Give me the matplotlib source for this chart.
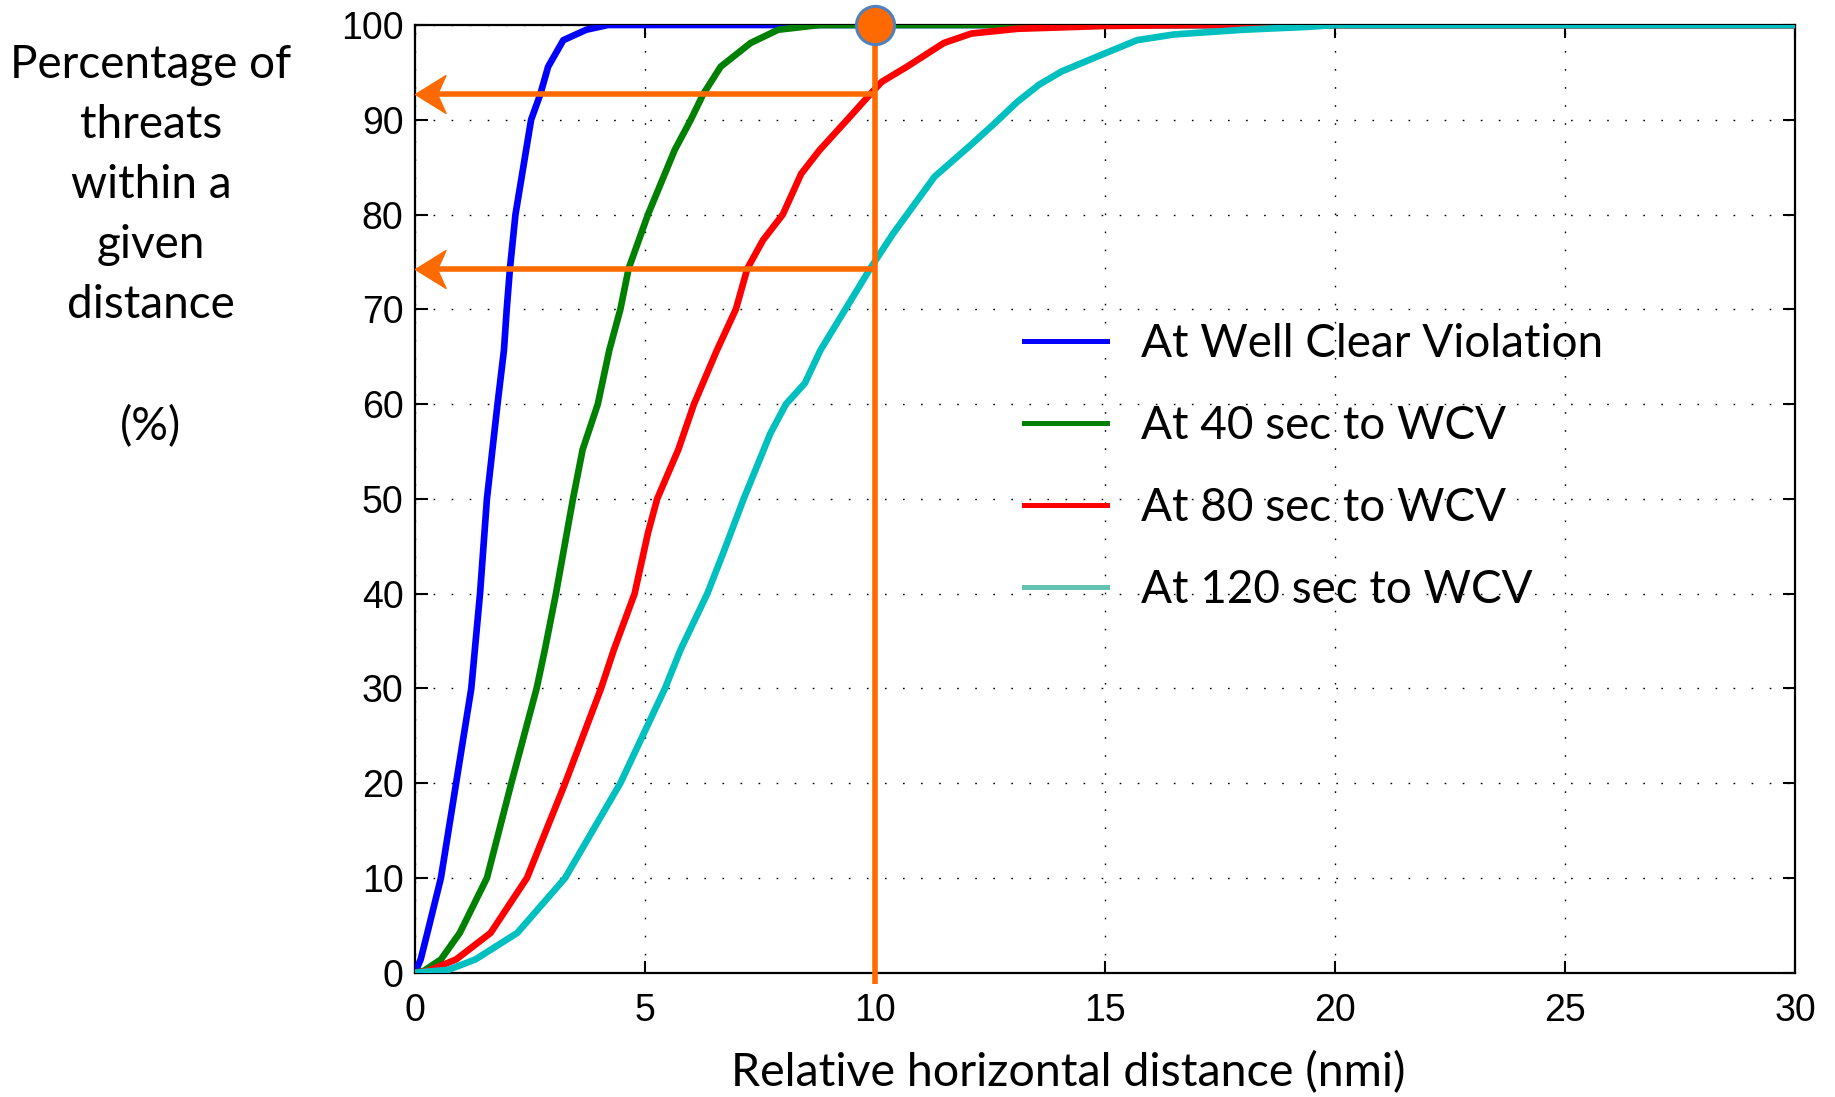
import matplotlib
matplotlib.use("Agg")
import matplotlib.pyplot as plt
from matplotlib.lines import Line2D
from matplotlib.path import Path

# ---------------- data ----------------
x_wcv = [0, 0.05, 0.13, 0.275, 0.57, 0.9, 1.23, 1.42, 1.57, 1.8, 1.94, 2.0, 2.07, 2.19, 2.53, 2.73, 2.9, 3.23, 3.73, 4.2, 30]
y_wcv = [0, 0.5, 1.4, 4.2, 10, 20, 30, 40, 50, 60, 65.7, 70, 74.3, 80, 90, 92.7, 95.6, 98.4, 99.5, 100, 100]

x_40 = [0, 0.2, 0.57, 0.98, 1.57, 2.1, 2.65, 2.83, 3.07, 3.44, 3.65, 3.98, 4.23, 4.47, 4.65, 5.07, 5.65, 6.0, 6.27, 6.65, 7.3, 7.9, 8.8, 30]
y_40 = [0, 0.2, 1.4, 4.2, 10, 20, 30, 34.1, 40, 50, 55.2, 60, 65.7, 70, 74.3, 80, 86.8, 90, 92.7, 95.6, 98.1, 99.5, 100, 100]

x_80 = [0, 0.3, 0.9, 1.65, 2.44, 3.27, 4.05, 4.33, 4.78, 5.07, 5.27, 5.73, 6.07, 6.57, 6.98, 7.23, 7.57, 8.0, 8.4, 8.8, 9.4, 9.9, 10.15, 10.7, 11.5, 12.1, 13.1, 15, 17, 30]
y_80 = [0, 0.2, 1.4, 4.2, 10, 20, 30, 34.1, 40, 46.4, 50, 55.2, 60, 65.7, 70, 74.3, 77.3, 80, 84.3, 86.8, 90, 92.7, 94.0, 95.6, 98.1, 99.1, 99.6, 99.9, 100, 100]

x_120 = [0, 0.73, 1.32, 2.23, 3.27, 4.47, 5.44, 5.78, 6.36, 6.73, 7.15, 7.73, 8.07, 8.48, 8.82, 9.36, 9.9, 10.4, 11.3, 12.1, 12.6, 13.1, 13.57, 14.06, 15, 15.7, 16.5, 18, 19.4, 20, 30]
y_120 = [0, 0.3, 1.4, 4.2, 10, 20, 30, 34.1, 40, 44.6, 50, 56.9, 60, 62.2, 65.7, 70, 74.3, 78, 84, 87.4, 89.6, 91.9, 93.7, 95.1, 97, 98.4, 99, 99.5, 99.8, 100, 100]

series_labels = ["At Well Clear Violation", "At 40 sec to WCV", "At 80 sec to WCV", "At 120 sec to WCV"]
series_colors = ["#0000FF", "#008000", "#FF0000", "#00BFBF"]
legend_colors = ["#0000FF", "#008000", "#FF0000", "#62C4B0"]

x_ticks = [0, 5, 10, 15, 20, 25, 30]
y_ticks = [0, 10, 20, 30, 40, 50, 60, 70, 80, 90, 100]

marker_x = 10
marker_y = 100
arrow_levels = [92.7, 74.3]

ylabel_text = "Percentage of\nthreats\nwithin a\ngiven\ndistance\n\n(%)"
xlabel_text = "Relative horizontal distance (nmi)"

# ---------------- figure ----------------
TEXT_FONT = ["Lato", "DejaVu Sans"]
TICK_FONT = ["Liberation Sans", "DejaVu Sans"]
plt.rcParams["font.family"] = TICK_FONT

W, H = 1835, 1097
L, R, T, B = 414.7, 1795.0, 25.0, 972.7
fig = plt.figure(figsize=(W / 100, H / 100), dpi=100)
ax = fig.add_axes([L / W, 1 - B / H, (R - L) / W, (B - T) / H])

curves = [(x_wcv, y_wcv), (x_40, y_40), (x_80, y_80), (x_120, y_120)]
for (xs, ys), c in zip(curves, series_colors):
    ax.plot(xs, ys, color=c, lw=4.8, solid_joinstyle="round", zorder=3)

ax.set_xlim(0, 30)
ax.set_ylim(0, 100)
ax.set_xticks(x_ticks)
ax.set_yticks(y_ticks)
ax.grid(True, color="black", lw=1.0, linestyle=(0, (1.2, 11.8)))
ax.tick_params(direction="in", length=9, width=1.5, top=True, right=True,
               labelsize=27)
ax.tick_params(axis="x", pad=14.5)
ax.tick_params(axis="y", pad=8)
for s in ax.spines.values():
    s.set_linewidth(1.6)

# orange annotation: vertical line, arrows and marker
orange = "#FF6A00"
stealth = Path([(0, 0), (1, 0.62), (0.72, 0), (1, -0.62), (0, 0)],
               [Path.MOVETO, Path.LINETO, Path.LINETO, Path.LINETO, Path.CLOSEPOLY])
ax.plot([marker_x, marker_x], [marker_y, -1.2], color=orange, lw=4.0, zorder=5,
        clip_on=False, solid_capstyle="butt")
for lvl in arrow_levels:
    ax.plot([marker_x, 0.5], [lvl, lvl], color=orange, lw=4.0, zorder=5,
            solid_capstyle="butt")
    ax.plot([0.0], [lvl], marker=stealth, ms=44, mfc=orange, mec=orange, mew=1.0,
            zorder=6, clip_on=False, linestyle="none")
ax.plot([marker_x], [marker_y], marker="o", ms=27.5, mfc=orange, mec="#4F81BD",
        mew=2.2, zorder=10, clip_on=False)

# legend
handles = [Line2D([], [], color=c, lw=3.6) for c in legend_colors]
leg = ax.legend(handles, series_labels, loc="upper left",
                bbox_to_anchor=(1024 / W, 1 - 323 / H), bbox_transform=fig.transFigure,
                frameon=False, prop={"family": TEXT_FONT, "size": 33},
                handlelength=1.8, handletextpad=0.75, labelspacing=0.875,
                borderpad=0, borderaxespad=0)

# axis labels as free text
fig.text(1068 / W, 1 - 1073 / H, xlabel_text, ha="center", va="center",
         family=TEXT_FONT, fontsize=33.6)
fig.text(151 / W, 1 - 246 / H, ylabel_text, ha="center", va="center",
         family=TEXT_FONT, fontsize=33, linespacing=1.53, multialignment="center")

fig.savefig("out.png", dpi=100)
